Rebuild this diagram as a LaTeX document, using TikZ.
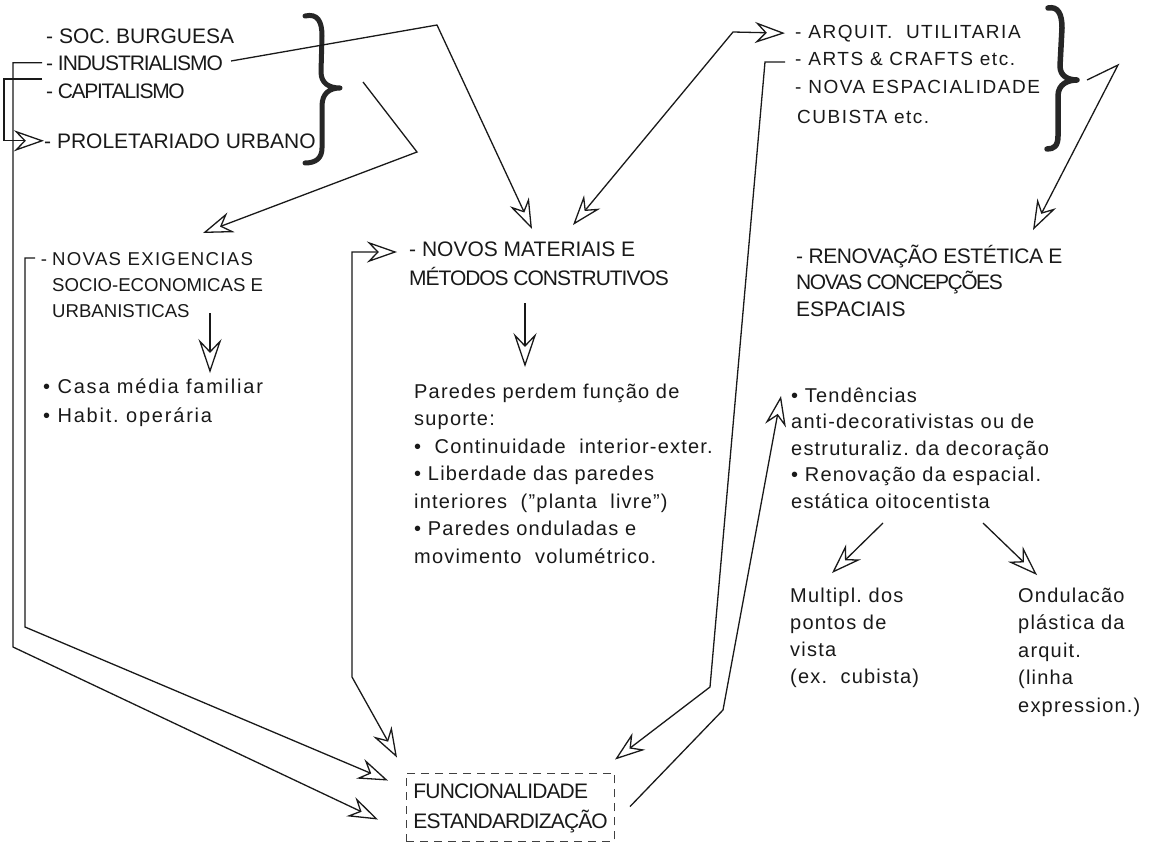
\documentclass[tikz,border=0pt]{standalone}
\usepackage{fontspec}
\setmainfont{Liberation Sans}
\usetikzlibrary{arrows.meta,calc}
\newcommand{\blk}[1]{\begin{tabular}[t]{@{}l@{}}#1\end{tabular}}
\begin{document}
\begin{tikzpicture}[x=1pt,y=-1pt,
  >={Stealth[open,length=30pt,width=21pt,inset=10pt]},
  txt/.style={inner sep=0pt, anchor=base west, text=black!90},
  capL/.style={txt, font=\fontsize{21}{27}\selectfont},
  capS/.style={txt, font=\fontsize{19}{28}\selectfont\addfontfeature{LetterSpace=8}},
  low/.style={txt, font=\fontsize{20}{27.5}\selectfont\addfontfeature{LetterSpace=6}},
  ln/.style={line width=1.3pt, draw=black!90},
  arr/.style={ln, ->},
  arr2/.style={ln, <->},
  arrB/.style={ln, -{Stealth[open,length=34pt,width=23pt,inset=12pt]}},
  bracestyle/.style={line width=5pt, line join=round, line cap=round, draw=black!85},
  funcbox/.style={draw=black!75, line width=0.9pt, dash pattern=on 8pt off 6pt,
     inner xsep=7pt, inner ysep=4pt, anchor=base west, text=black!90,
     font=\fontsize{21}{30}\selectfont\addfontfeature{LetterSpace=-4}}
]
\useasboundingbox (0,0) rectangle (1161,846);

% ---- text nodes
\node[capL] (soc) at (46,43) {- SOC.\ BURGUESA};
\node[capL] (ind) at (46,70) {\addfontfeature{LetterSpace=-5}- INDUSTRIALISMO};
\node[capL] (cap) at (46,98) {\addfontfeature{LetterSpace=-6}- CAPITALISMO};
\node[capL] (prol) at (44,148) {- PROLETARIADO URBANO};

\node[capS] (arq) at (795,38) {- ARQUIT.\ \ UTILITARIA};
\node[capS] (arts) at (795,65) {- ARTS \& CRAFTS etc.};
\node[capS] (nova) at (795,93) {- NOVA ESPACIALIDADE};
\node[capS] (cub) at (797,123) {CUBISTA etc.};

\node[txt, font=\fontsize{18.6}{26}\selectfont] (nex) at (52,265)
  {\blk{\llap{- }\addfontfeature{LetterSpace=7}NOVAS EXIGENCIAS\\ SOCIO-ECONOMICAS E\\ URBANISTICAS}};
\node[low, font=\fontsize{20}{29}\selectfont\addfontfeature{LetterSpace=9}] (casa) at (43,393)
  {\blk{• Casa média familiar\\ • Habit.\ operária}};

\node[txt, font=\fontsize{21}{29}\selectfont] (nmat) at (409,256)
  {\blk{- NOVOS MATERIAIS E\\ \addfontfeature{LetterSpace=-5}MÉTODOS CONSTRUTIVOS}};
\node[low] (par) at (414,398)
  {\blk{Paredes perdem função de\\ suporte:\\ •\ \ Continuidade\ \ interior-exter.\\
   • Liberdade das paredes\\ interiores\ \ ("planta\ \ livre")\\ • Paredes onduladas e\\
   movimento\ \ volumétrico.}};

\node[txt, font=\fontsize{21}{26.5}\selectfont] (ren) at (796,263)
  {\blk{\addfontfeature{LetterSpace=-2}- RENOVAÇÃO ESTÉTICA E\\
   \addfontfeature{LetterSpace=-7}NOVAS CONCEPÇÕES\\ ESPACIAIS}};

\node[low, font=\fontsize{20}{26.5}\selectfont\addfontfeature{LetterSpace=6}] (tend) at (791,402)
  {\blk{• Tendências\\ anti-decorativistas ou de\\ estruturaliz.\ da decoração\\
   • Renovação da espacial.\\ estática oitocentista}};
\node[low, font=\fontsize{20}{27}\selectfont\addfontfeature{LetterSpace=6}] (mult) at (790,602)
  {\blk{Multipl.\ dos\\ pontos de\\ vista\\ (ex.\ \ cubista)}};
\node[low, font=\fontsize{20}{27.5}\selectfont\addfontfeature{LetterSpace=6}] (ond) at (1018,602)
  {\blk{Ondulacão\\ plástica da\\ arquit.\\ (linha\\ expression.)}};

\node[funcbox] (func) at (406,798) {\blk{FUNCIONALIDADE\\ ESTANDARDIZAÇÃO}};

% ---- braces
\coordinate (lb) at (340,88);
\coordinate (rb) at (1077,80);
\draw[bracestyle] (305,16) .. controls (318,13) and (322,22) .. (322,36) -- (321,72)
  .. controls (321,84) and (330,88) .. (lb)
  .. controls (330,88) and (322,93) .. (322,106) -- (322,148)
  .. controls (322,158) and (316,163) .. (305,163);
\draw[bracestyle, line width=5.5pt] (1048,8) .. controls (1058,6) and (1062,14) .. (1062,28) -- (1060,66)
  .. controls (1060,76) and (1068,80) .. (rb)
  .. controls (1068,80) and (1058,84) .. (1058,96) -- (1058,136)
  .. controls (1058,146) and (1054,149) .. (1047,149);

% ---- connectors
\draw[arr] ([shift={(-4,-4)}]cap.north west) -| ([xshift=-40]prol.west) -- (prol.west);
\draw[arr] ([xshift=-4]ind.west) -| (13,647) -- ([shift={(-28,47)}]func.north west);
\draw[arr] ([shift={(-17,-7)}]nex.base west) -| (25,627) -- ([shift={(-18,8)}]func.north west);
\draw[arr] ([shift={(8,-9)}]ind.base east) -- (437,25) -- ([shift={(123,-27)}]nmat.base west);
\draw[arr] ($(lb)+(23,-6)$) -- (417,152) -- ([shift={(151,-32)}]nex.base west);
\draw[arr2] ([shift={(164,-31)}]nmat.base west) -- (733,32) -- ([xshift=-10]arq.west);
\draw[arrB] ([shift={(158,48)}]nex.base west) -- ([shift={(167,-20)}]casa.base west);
\draw[arrB] ([shift={(116,47)}]nmat.base west) -- ([shift={(111,-31)}]par.base west);
\draw[arr2] ([shift={(-12,-4)}]nmat.base west) -- (352,252) -- (352,677) -- ([shift={(-9,-15)}]func.north west);
\draw[arr] ([shift={(-10,-3)}]arts.base west) -- (765,62) -- (710,687) -- ([shift={(209,-13)}]func.north west);
\draw[arr] ([shift={(224,34)}]func.north west) -- (723,710) -- ([shift={(-10,-6)}]tend.base west);
\draw[arr] ($(rb)+(10,0)$) -- (1118,65) -- ([shift={(237,-33)}]ren.base west);
\draw[arr] ([shift={(92,121)}]tend.base west) -- ([shift={(42,-29)}]mult.base west);
\draw[arr] ([shift={(192,121)}]tend.base west) -- ([shift={(19,-27)}]ond.base west);
\end{tikzpicture}
\end{document}
